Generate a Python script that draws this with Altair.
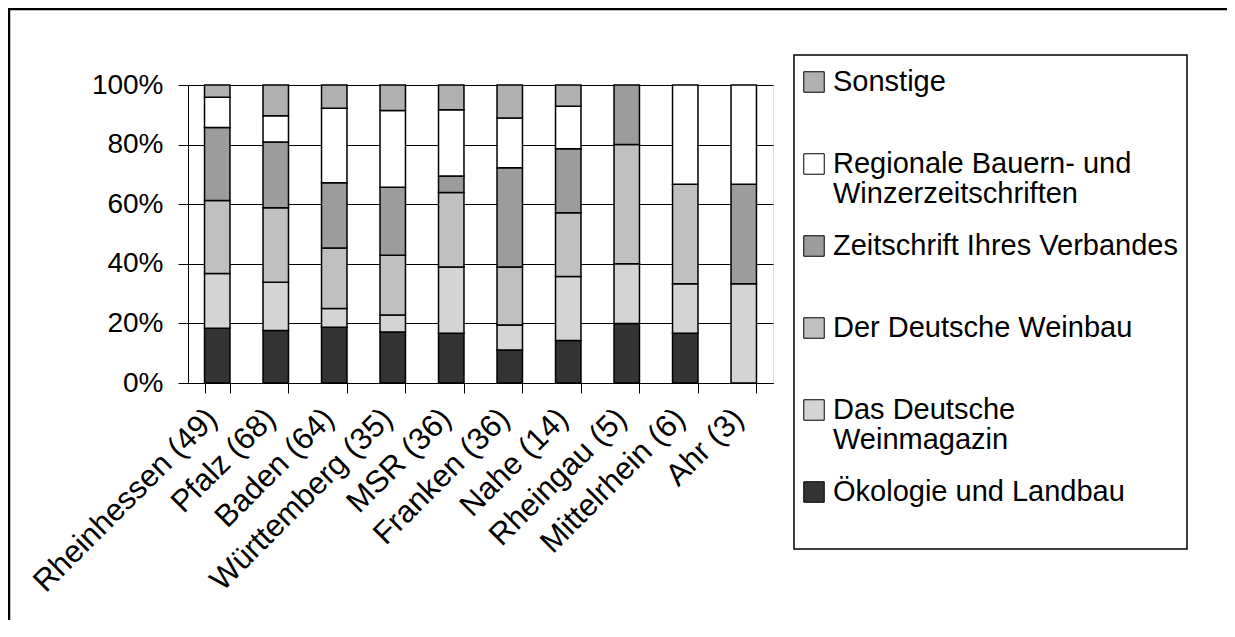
import altair as alt
import pandas as pd

regions = ["Rheinhessen (49)", "Pfalz (68)", "Baden (64)", "Württemberg (35)", "MSR (36)",
           "Franken (36)", "Nahe (14)", "Rheingau (5)", "Mittelrhein (6)", "Ahr (3)"]

# series from bottom of stack to top
series = ["Ökologie und Landbau", "Das Deutsche Weinmagazin", "Der Deutsche Weinbau",
          "Zeitschrift Ihres Verbandes", "Regionale Bauern- und Winzerzeitschriften", "Sonstige"]

oekologie = [9, 12, 12, 6, 6, 4, 2, 1, 1, 0]
weinmagazin = [9, 11, 4, 2, 8, 3, 3, 1, 1, 1]
weinbau = [12, 17, 13, 7, 9, 7, 3, 2, 2, 0]
verband = [12, 15, 14, 8, 2, 12, 3, 1, 0, 1]
regionale = [5, 6, 16, 9, 8, 6, 2, 0, 2, 1]
sonstige = [2, 7, 5, 3, 3, 4, 1, 0, 0, 0]

legend_labels = ["Ökologie und Landbau", "Das Deutsche\nWeinmagazin", "Der Deutsche Weinbau",
                 "Zeitschrift Ihres Verbandes", "Regionale Bauern- und\nWinzerzeitschriften", "Sonstige"]

colors = ["#333333", "#d4d4d4", "#c0c0c0", "#9c9c9c", "#ffffff", "#b0b0b0"]

values = [oekologie, weinmagazin, weinbau, verband, regionale, sonstige]
rows = []
for i, (s, vals) in enumerate(zip(series, values)):
    for r, v in zip(regions, vals):
        rows.append({"region": r, "series": s, "idx": i, "count": v})
df = pd.DataFrame(rows)

leg_df = pd.DataFrame({"series": series, "label": legend_labels})
legend_order = list(reversed(series))

FONT = "Liberation Sans"
color_scale = alt.Scale(domain=series, range=colors)

border = alt.Chart(pd.DataFrame({"k": [0]})).mark_rect(
    fillOpacity=0, stroke="black", strokeWidth=2.5
).encode(x=alt.value(-179), x2=alt.value(1400), y=alt.value(-76), y2=alt.value(900))

legend_box = alt.Chart(pd.DataFrame({"k": [0]})).mark_rect(
    fill="white", stroke="black", strokeWidth=1.5
).encode(x=alt.value(606), x2=alt.value(999), y=alt.value(-30), y2=alt.value(464))

bars = alt.Chart(df).transform_filter("datum.count > 0").mark_bar(
    stroke="black", strokeWidth=1.5
).encode(
    x=alt.X("region:N", sort=regions,
            scale=alt.Scale(paddingInner=0.565, paddingOuter=0.2825),
            axis=alt.Axis(title="", labelAngle=-45, labelAlign="right", labelBaseline="top",
                          labelFontSize=31, labelFont=FONT, labelColor="black", labelLimit=500,
                          labelOverlap=False, labelPadding=10, labelOffset=-16,
                          tickBand="extent", tickSize=10,
                          tickColor="black", domainColor="black", grid=False)),
    y=alt.Y("count:Q", stack="normalize",
            axis=alt.Axis(title="", format="%", values=[0, 0.2, 0.4, 0.6, 0.8, 1.0],
                          tickSize=10, labelPadding=15, labelFontSize=28, labelFont=FONT,
                          labelColor="black", domainColor="black", tickColor="black",
                          grid=True, gridColor="black", gridOpacity=1, gridWidth=1)),
    fill=alt.Color("series:N", scale=color_scale, legend=None),
    order=alt.Order("idx:Q", sort="ascending"),
)

leg_y = alt.Y("series:N", sort=legend_order,
              scale=alt.Scale(type="point", domain=legend_order, range=[-3, 407], padding=0),
              axis=None)

legend_sym = alt.Chart(leg_df).mark_square(
    size=420, opacity=1, stroke="black", strokeWidth=1
).encode(
    x=alt.value(626), y=leg_y,
    fill=alt.Color("series:N", scale=color_scale, legend=None),
)

legend_txt = alt.Chart(leg_df).mark_text(
    align="left", baseline="middle", fontSize=29, font=FONT, color="black",
    lineBreak="\n", lineHeight=30
).encode(x=alt.value(645), y=leg_y, text="label:N")

chart = alt.layer(border, legend_box, bars, legend_sym, legend_txt).resolve_scale(
    y="independent"
).properties(
    width=585, height=298,
    padding={"left": 180, "top": 77, "right": 454, "bottom": 237},
    autosize=alt.AutoSizeParams(type="none"),
    background="white",
).configure_view(strokeWidth=0).configure(font=FONT)

chart.save("out.html", embed_options={"renderer": "svg", "actions": False})
